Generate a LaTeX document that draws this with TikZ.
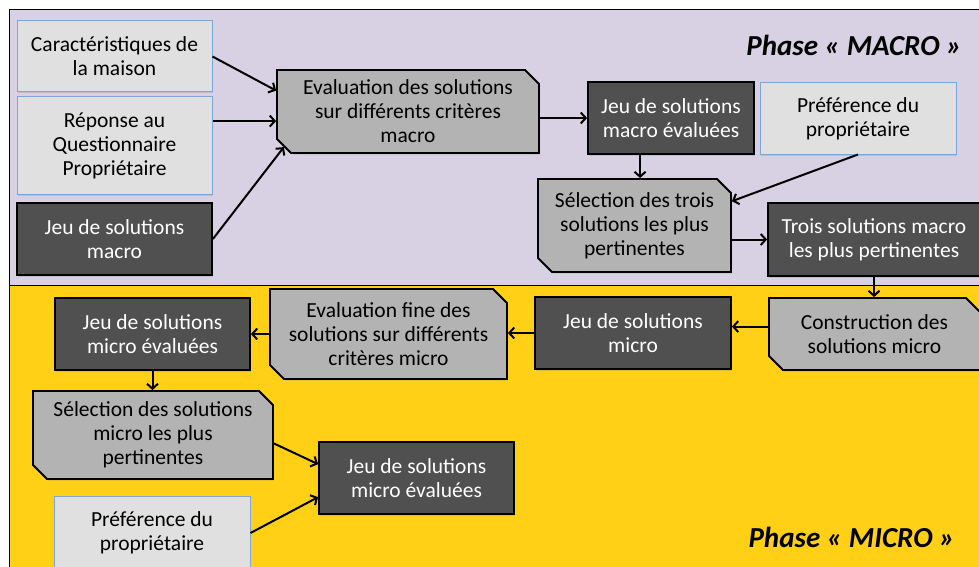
\documentclass[tikz,border=0pt]{standalone}
\usepackage{fontspec}
\setmainfont{Carlito}
\usetikzlibrary{shapes.misc,arrows.meta,shadows}
\definecolor{macrobg}{RGB}{216,208,227}
\definecolor{microbg}{RGB}{255,208,22}
\definecolor{lightfill}{RGB}{224,224,224}
\definecolor{lightedge}{RGB}{125,165,215}
\definecolor{darkfill}{RGB}{80,80,80}
\definecolor{grayfill}{RGB}{179,179,179}

\begin{document}
\begin{tikzpicture}[x=1pt,y=-1pt,font=\fontsize{21.5}{24}\selectfont,
    ombre/.style={drop shadow={opacity=0.25,shadow xshift=1pt,shadow yshift=-1.5pt}},
    donnee/.style={draw=lightedge,fill=lightfill,line width=1pt,align=center,inner sep=0pt,ombre},
    resultat/.style={draw=black,fill=darkfill,text=white,line width=1.8pt,align=center,inner sep=0pt,ombre},
    traitement/.style={chamfered rectangle,chamfered rectangle corners={north east,south west},
        chamfered rectangle sep=7pt,draw=black,fill=grayfill,line width=1.8pt,align=center,inner sep=0pt,ombre},
    fleche/.style={-{Straight Barb[length=5pt,width=11pt]},line width=2pt},
    phase/.style={font=\fontsize{29}{34}\selectfont\bfseries\itshape,anchor=east,inner sep=0pt}]
    \useasboundingbox (0,0) rectangle (979,567);
    \fill[macrobg] (9,10) rectangle (995,285);
    \fill[microbg] (9,285) rectangle (995,580);
    \draw[line width=1pt] (995,10) -- (9,10) -- (9,580);
    \draw[line width=1pt] (9,285) -- (995,285);

    \node (macro) at (962,45) [phase] {Phase « MACRO »};
    \node (micro) at (955,537) [phase] {Phase « MICRO »};

    \node (car) at (114.5,56.5) [donnee,minimum width=195pt,minimum height=71pt] {Caractéristiques de\\la maison};
    \node (rep) at (114.5,145.5) [donnee,minimum width=195pt,minimum height=97pt] {Réponse au\\Questionnaire\\Propriétaire};
    \node (jeumac) at (114.5,239) [resultat,minimum width=195pt,minimum height=72pt] {Jeu de solutions\\macro};
    \node (evalmac) at (408,111.5) [traitement,minimum width=262pt,minimum height=83pt] {Evaluation des solutions\\sur différents critères\\macro};
    \node (jeumaceval) at (671,118) [resultat,minimum width=166pt,minimum height=72pt] {Jeu de solutions\\macro évaluées};
    \node (pref) at (858,118.5) [donnee,minimum width=196pt,minimum height=71pt] {Préférence du\\propriétaire};
    \node (selmac) at (634.5,225.5) [traitement,minimum width=193pt,minimum height=93pt] {Sélection des trois\\solutions les plus\\pertinentes};
    \node (trois) at (874,239.5) [resultat,minimum width=212pt,minimum height=73pt] {Trois solutions macro\\les plus pertinentes};

    \node (constr) at (874.5,334) [traitement,minimum width=211pt,minimum height=72pt] {Construction des\\solutions micro};
    \node (jeumic) at (633,333) [resultat,minimum width=196pt,minimum height=72pt] {Jeu de solutions\\micro};
    \node (evalfine) at (388.5,334) [traitement,minimum width=237pt,minimum height=90pt] {Evaluation fine des\\solutions sur différents\\critères micro};
    \node (jeumiceval) at (152.5,334) [resultat,minimum width=195pt,minimum height=72pt] {Jeu de solutions\\micro évaluées};
    \node (selmic) at (153,435) [traitement,minimum width=240pt,minimum height=88pt] {Sélection des solutions\\micro les plus\\pertinentes};
    \node (jeumicevalb) at (416.5,478) [resultat,minimum width=195pt,minimum height=72pt] {Jeu de solutions\\micro évaluées};
    \node (prefb) at (152,533) [donnee,minimum width=196pt,minimum height=74pt] {Préférence du\\propriétaire};

    \draw[fleche] (car.east) -- (evalmac.171);
    \draw[fleche] (rep.14) -- (rep.14 -| evalmac.west);
    \draw[fleche] (jeumac.east) -- (evalmac.196);
    \draw[fleche] (evalmac.east |- jeumaceval.west) -- (jeumaceval.west);
    \draw[fleche] (jeumaceval.230) -- (jeumaceval.230 |- selmac.north);
    \draw[fleche] (pref.south) -- (selmac.14);
    \draw[fleche] (selmac.east |- trois.west) -- (trois.west);
    \draw[fleche] (trois.south) -- (trois.south |- constr.north);
    \draw[fleche] (constr.176) -- (constr.176 -| jeumic.east);
    \draw[fleche] (jeumic.west) -- (jeumic.west -| evalfine.east);
    \draw[fleche] (evalfine.west) -- (evalfine.west -| jeumiceval.east);
    \draw[fleche] (jeumiceval.south) -- (jeumiceval.south |- selmic.north);
    \draw[fleche] (selmic.356) -- (jeumicevalb.172);
    \draw[fleche] (prefb.east) -- (jeumicevalb.191);
\end{tikzpicture}
\end{document}
